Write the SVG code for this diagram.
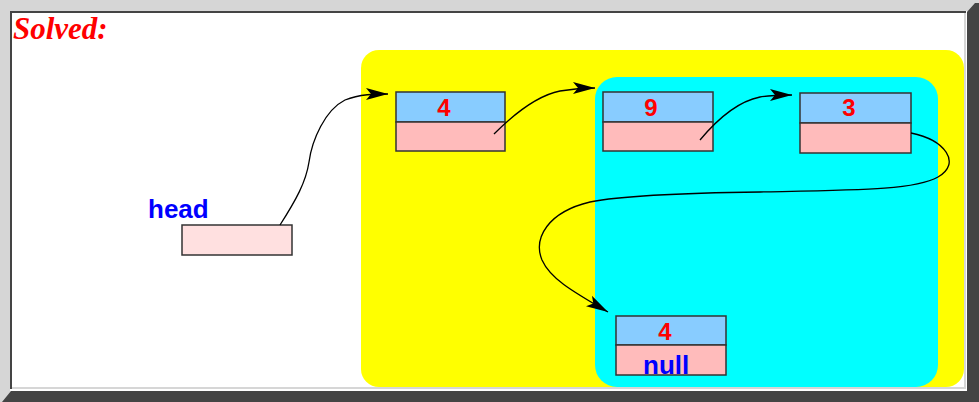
<svg xmlns="http://www.w3.org/2000/svg" width="979" height="402" viewBox="0 0 979 402">
  <style>
    .cell-top { fill: #88ccff; stroke: #333333; stroke-width: 1.5; }
    .cell-bot { fill: #ffbbbb; stroke: #333333; stroke-width: 1.5; }
    .val { font-family: "Liberation Sans", Arial, sans-serif; font-weight: bold; font-size: 24px; fill: #ff0000; text-anchor: middle; }
    .ref { font-family: "Liberation Sans", Arial, sans-serif; font-weight: bold; font-size: 26px; fill: #0000ff; }
    .link { fill: none; stroke: #000000; stroke-width: 1.3; marker-end: url(#arrow); }
  </style>
  <defs>
    <marker id="arrow" markerUnits="userSpaceOnUse" markerWidth="24" markerHeight="14" refX="22" refY="7" orient="auto">
      <path d="M0,1 L22,7 L0,13 L5,7 Z" fill="#000000"/>
    </marker>
  </defs>

  <!-- window frame -->
  <rect width="979" height="402" fill="#d6d6d6"/>
  <polygon points="967,12 975,3 979,3 979,402 2,402 11,391 967,391" fill="#444444"/>
  <rect x="10" y="11" width="957" height="380" fill="#ffffff"/>
  <rect x="964" y="12" width="2" height="377" fill="#d6d6d6"/>
  <rect x="12" y="387" width="954" height="2" fill="#d6d6d6"/>
  <rect x="10" y="11" width="956" height="2" fill="#444444"/>
  <rect x="10" y="11" width="2" height="378" fill="#444444"/>

  <text x="13" y="39" font-family="Liberation Serif, 'Times New Roman', serif" font-weight="bold" font-style="italic" font-size="31" fill="#ff0000">Solved:</text>

  <!-- highlighted regions -->
  <g id="region-outer">
    <rect x="361" y="50" width="603" height="337" rx="18" fill="#ffff00"/>
  </g>
  <g id="region-inner">
    <rect x="595" y="77" width="343" height="310" rx="22" fill="#00ffff"/>
  </g>

  <!-- head reference -->
  <g id="node-head">
    <text class="ref" x="148" y="218">head</text>
    <rect x="182" y="225" width="110" height="30" fill="#ffe0e0" stroke="#333333" stroke-width="1.5"/>
  </g>

  <!-- list nodes -->
  <g id="node-4">
    <rect class="cell-top" x="396" y="92" width="109" height="30"/>
    <rect class="cell-bot" x="396" y="122" width="109" height="29"/>
    <text class="val" x="444" y="116">4</text>
  </g>
  <g id="node-9">
    <rect class="cell-top" x="603" y="92" width="110" height="30"/>
    <rect class="cell-bot" x="603" y="122" width="110" height="29"/>
    <text class="val" x="651" y="116">9</text>
  </g>
  <g id="node-3">
    <rect class="cell-top" x="800" y="93" width="111" height="30"/>
    <rect class="cell-bot" x="800" y="123" width="111" height="30"/>
    <text class="val" x="849" y="116">3</text>
  </g>
  <g id="node-4-last">
    <rect class="cell-top" x="616" y="316" width="110" height="29"/>
    <rect class="cell-bot" x="616" y="345" width="110" height="30"/>
    <text class="val" x="665" y="340">4</text>
    <text class="ref" x="643" y="374">null</text>
  </g>

  <!-- pointers -->
  <g id="connectors">
    <path class="link" d="M280,225 C296,200 306,182 309,162 C312,140 325,110 345,100 C360,94 375,94 388,94"/>
    <path class="link" d="M494,134 C510,118 535,96 560,91 C572,89 585,88 595,88"/>
    <path class="link" d="M700,140 C715,122 735,102 760,97 C772,95 782,95 792,95"/>
    <path class="link" d="M911,133 C945,140 962,163 938,177 C915,190 860,190 760,192 C680,193 620,196 590,202 C548,212 533,238 542,260 C550,278 570,290 608,312"/>
  </g>
</svg>
